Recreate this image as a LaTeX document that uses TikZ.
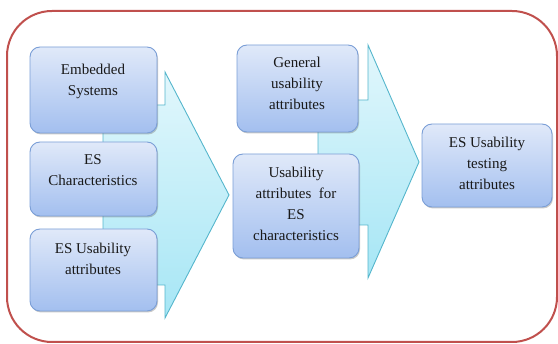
\documentclass[tikz,border=0pt]{standalone}
\usepackage{fontspec}
\setmainfont{Liberation Serif}
\newfontfamily\tnr{Liberation Serif}
\usetikzlibrary{shadows}
\definecolor{boxtop}{HTML}{E0E9F9}
\definecolor{boxbot}{HTML}{A3BFEF}
\definecolor{boxline}{HTML}{7A9ED6}
\definecolor{arrtop}{HTML}{E2F7FC}
\definecolor{arrbot}{HTML}{A6E6F5}
\definecolor{arrline}{HTML}{55B6CC}
\definecolor{frame}{HTML}{C0504D}
\tikzset{
  esbox/.style={draw=boxline, line width=0.9pt, rounded corners=10pt,
    top color=boxtop, bottom color=boxbot,
    drop shadow={shadow xshift=1pt, shadow yshift=-1.5pt, opacity=0.35, fill=black!60}},
  bigarrow/.style={draw=arrline, line width=0.9pt, top color=arrtop, bottom color=arrbot},
  txt/.style={align=center, font=\tnr\fontsize{15}{21}\selectfont, inner sep=0pt, text=black!90}
}
\begin{document}
\begin{tikzpicture}[x=1pt,y=-1pt]
\useasboundingbox (0,0) rectangle (558,344);
% outer frame
\draw[frame, line width=2pt, rounded corners=45pt] (7,11) rectangle (557,342);
% big arrows
\draw[bigarrow] (103,105) -- (165,105) -- (165,72) -- (229,195) -- (165,318) -- (165,285) -- (103,285) -- cycle;
\draw[bigarrow] (318,100) -- (368,100) -- (368,45) -- (419,162) -- (368,278) -- (368,225) -- (318,225) -- cycle;
% boxes
\node[esbox, minimum width=127pt, minimum height=86pt] (b1) at (93.5,90) {};
\node[esbox, minimum width=127pt, minimum height=74pt] (b2) at (93.5,179) {};
\node[esbox, minimum width=127pt, minimum height=82pt] (b3) at (93.5,270) {};
\node[esbox, minimum width=121pt, minimum height=87pt] (b4) at (297.5,88.5) {};
\node[esbox, minimum width=126pt, minimum height=104pt] (b5) at (296,206) {};
\node[esbox, minimum width=130pt, minimum height=83pt] (b6) at (487,165.5) {};
% texts
\node[txt] (t1) at (93,81.5) {Embedded\\Systems};
\node[txt] (t2) at (93,170.5) {ES\\Characteristics};
\node[txt] (t3) at (93,259) {ES Usability\\attributes};
\node[txt] (t4) at (297,83) {General\\usability\\attributes};
\node[txt] (t5) at (296,203.5) {Usability\\attributes~ for\\ES\\characteristics};
\node[txt] (t6) at (487,163) {ES Usability\\testing\\attributes};
\end{tikzpicture}
\end{document}
